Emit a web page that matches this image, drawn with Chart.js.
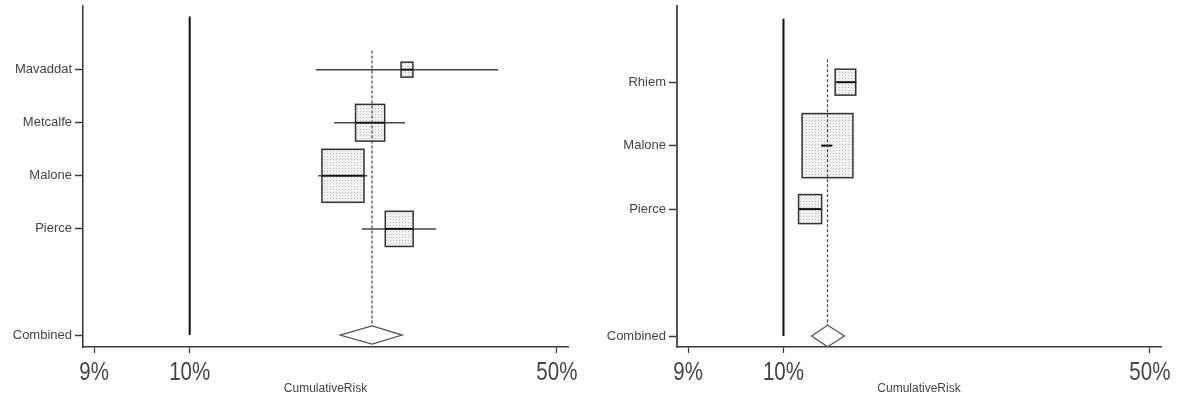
<!DOCTYPE html>
<html>
<head>
<meta charset="utf-8">
<script src="https://cdn.jsdelivr.net/npm/chart.js@4.4.1/dist/chart.umd.min.js"></script>
<style>
  body { margin: 0; background: #fff; }
  #wrap { display: flex; width: 1186px; height: 399px; }
  .pane { position: relative; width: 593px; height: 399px; }
</style>
</head>
<body>
<div id="wrap">
  <div class="pane"><canvas id="leftChart"></canvas></div>
  <div class="pane"><canvas id="rightChart"></canvas></div>
</div>
<script>
// ====== 軸（同一套刻度，位置照圖上讀） ======
const TICK_POS = [2.3, 22, 97.7];
const TICK_LABELS = ['9%', '10%', '50%'];
const REF_POS = 22;            // 10% 的實線
const AXIS_TITLE = 'CumulativeRisk';

// ====== 左圖 ======
const LEFT_STUDIES = ['Mavaddat', 'Metcalfe', 'Malone', 'Pierce'];
const LEFT_EST    = [66.8, 59.2, 53.6, 65.2];
const LEFT_LO     = [48.0, 51.8, 48.5, 57.5];
const LEFT_HI     = [85.6, 66.4, 58.6, 72.8];
const LEFT_WEIGHT = [4, 24, 50, 22];
const LEFT_COMBINED = [59.6, 53.0, 65.8];   // est, lo, hi

// ====== 右圖 ======
const RIGHT_STUDIES = ['Rhiem', 'Malone', 'Pierce'];
const RIGHT_EST    = [34.8, 31.1, 27.5];
const RIGHT_LO     = [32.9, 29.8, 25.2];
const RIGHT_HI     = [37.1, 32.1, 29.8];
const RIGHT_WEIGHT = [12, 73, 15];
const RIGHT_COMBINED = [31.1, 27.8, 34.6];

const TEXT_COLOR = '#444';
const AXIS_COLOR = '#3a3a3a';

// 點點灰底
function makePattern() {
  const c = document.createElement('canvas');
  c.width = 3; c.height = 3;
  const g = c.getContext('2d');
  g.fillStyle = '#f0f0f0';
  g.fillRect(0, 0, 3, 3);
  g.fillStyle = '#c4c4c4';
  g.fillRect(0, 0, 1, 1);
  return c;
}
const patternCanvas = makePattern();

// ====== 森林圖插件 ======
const forestPlugin = {
  id: 'forest',
  beforeDatasetsDraw(chart) {
    const { ctx } = chart;
    const xs = chart.scales.x, ys = chart.scales.y;
    const n = chart.data.datasets[0].data.length;

    // 10% 參考線
    const rx = xs.getPixelForValue(REF_POS);
    ctx.save();
    ctx.strokeStyle = '#111';
    ctx.lineWidth = 2;
    ctx.beginPath();
    ctx.moveTo(rx, ys.getPixelForValue(n + 3));
    ctx.lineTo(rx, ys.getPixelForValue(1));
    ctx.stroke();
    ctx.restore();
  },
  afterDatasetsDraw(chart) {
    const { ctx } = chart;
    const xs = chart.scales.x, ys = chart.scales.y;
    const n = chart.data.datasets[0].data.length;
    const pat = ctx.createPattern(patternCanvas, 'repeat');

    chart.data.datasets[0].data.forEach(p => {
      const x = xs.getPixelForValue(p.x);
      const y = ys.getPixelForValue(p.y);
      const bw = 5.95 * Math.sqrt(p.w);
      const bh = 7.5 * Math.sqrt(p.w);
      ctx.save();
      // 信賴區間
      ctx.strokeStyle = '#444';
      ctx.lineWidth = 1.5;
      ctx.beginPath();
      ctx.moveTo(xs.getPixelForValue(p.lo), y);
      ctx.lineTo(xs.getPixelForValue(p.hi), y);
      ctx.stroke();
      // 方塊
      ctx.fillStyle = pat;
      ctx.fillRect(x - bw / 2, y - bh / 2, bw, bh);
      ctx.strokeStyle = '#333';
      ctx.lineWidth = 1.5;
      ctx.strokeRect(x - bw / 2, y - bh / 2, bw, bh);
      // 方塊內的線
      const l = Math.max(xs.getPixelForValue(p.lo), x - bw / 2);
      const r = Math.min(xs.getPixelForValue(p.hi), x + bw / 2);
      ctx.strokeStyle = '#111';
      ctx.lineWidth = 2;
      ctx.beginPath();
      ctx.moveTo(l, y);
      ctx.lineTo(r, y);
      ctx.stroke();
      ctx.restore();
    });

    // 合併估計虛線（畫在方塊上面）
    const c = chart.data.datasets[1].data[0];
    const cx = xs.getPixelForValue(c.x);
    ctx.save();
    ctx.strokeStyle = '#444';
    ctx.lineWidth = 1.2;
    ctx.setLineDash([3, 2]);
    ctx.beginPath();
    ctx.moveTo(cx, ys.getPixelForValue(n + 2.36));
    ctx.lineTo(cx, ys.getPixelForValue(1.17));
    ctx.stroke();
    ctx.restore();

    // 菱形
    const cy = ys.getPixelForValue(c.y);
    const h = cy - ys.getPixelForValue(c.y + 0.17);
    ctx.save();
    ctx.fillStyle = '#fff';
    ctx.strokeStyle = '#555';
    ctx.lineWidth = 1.3;
    ctx.beginPath();
    ctx.moveTo(xs.getPixelForValue(c.lo), cy);
    ctx.lineTo(cx, cy - h);
    ctx.lineTo(xs.getPixelForValue(c.hi), cy);
    ctx.lineTo(cx, cy + h);
    ctx.closePath();
    ctx.fill();
    ctx.stroke();
    ctx.restore();
  },
  afterDraw(chart) {
    // 窄體的 X 軸刻度文字
    const { ctx } = chart;
    const xs = chart.scales.x;
    const baseY = xs.top + 33;
    ctx.save();
    ctx.fillStyle = '#444';
    ctx.font = '25px "Liberation Sans", Arial, sans-serif';
    ctx.textAlign = 'center';
    ctx.textBaseline = 'alphabetic';
    TICK_POS.forEach((v, i) => {
      const x = xs.getPixelForValue(v);
      ctx.save();
      ctx.translate(x, baseY);
      ctx.scale(0.82, 1);
      ctx.fillText(TICK_LABELS[i], 0, 0);
      ctx.restore();
    });
    ctx.restore();
  }
};

function buildForest(canvasId, studies, est, lo, hi, weight, combined, yMin, yAxisWidth, yBorderColor, yBorderWidth) {
  const n = studies.length;
  const rows = studies.map((s, i) => n + 2 - i);
  const rowTicks = [1].concat(rows.slice().reverse());
  const rowLabels = {};
  studies.forEach((s, i) => { rowLabels[rows[i]] = s; });
  rowLabels[1] = 'Combined';

  const points = studies.map((s, i) => ({ x: est[i], y: rows[i], lo: lo[i], hi: hi[i], w: weight[i] }));

  return new Chart(document.getElementById(canvasId), {
    type: 'scatter',
    data: {
      datasets: [
        { label: 'studies', data: points, pointRadius: 0, pointHoverRadius: 0 },
        { label: 'combined', data: [{ x: combined[0], y: 1, lo: combined[1], hi: combined[2] }], pointRadius: 0, pointHoverRadius: 0 }
      ]
    },
    options: {
      responsive: true,
      maintainAspectRatio: false,
      animation: false,
      layout: { padding: { top: 6, right: 25, left: 0, bottom: 0 } },
      scales: {
        x: {
          type: 'linear',
          min: 0,
          max: 100,
          afterFit: s => { s.height = 52; s.paddingLeft = 0; s.paddingRight = 0; },
          afterBuildTicks: s => { s.ticks = TICK_POS.map(v => ({ value: v })); },
          ticks: { display: false, autoSkip: false },
          grid: { drawOnChartArea: false, drawTicks: true, tickLength: 6, color: AXIS_COLOR, tickWidth: 1.2 },
          border: { display: true, color: AXIS_COLOR, width: 1.5 },
          title: {
            display: true,
            text: AXIS_TITLE,
            color: '#444',
            font: { family: '"Liberation Sans", Arial, sans-serif', size: 12 },
            padding: { top: 0, bottom: 3 }
          }
        },
        y: {
          type: 'linear',
          min: yMin,
          max: n + 3.2,
          afterFit: s => { s.width = yAxisWidth; s.paddingTop = 0; s.paddingBottom = 0; },
          afterBuildTicks: s => { s.ticks = rowTicks.map(v => ({ value: v })); },
          ticks: {
            autoSkip: false,
            padding: 3,
            color: TEXT_COLOR,
            font: { family: '"Liberation Sans", Arial, sans-serif', size: 13 },
            callback: v => rowLabels[v] || ''
          },
          grid: { drawOnChartArea: false, drawTicks: true, tickLength: 8, color: AXIS_COLOR, tickWidth: 1.5 },
          border: { display: true, color: yBorderColor, width: yBorderWidth }
        }
      },
      plugins: {
        legend: { display: false },
        tooltip: { enabled: false }
      }
    },
    plugins: [forestPlugin]
  });
}

buildForest('leftChart', LEFT_STUDIES, LEFT_EST, LEFT_LO, LEFT_HI, LEFT_WEIGHT, LEFT_COMBINED, 0.774, 83, '#333', 1.5);
buildForest('rightChart', RIGHT_STUDIES, RIGHT_EST, RIGHT_LO, RIGHT_HI, RIGHT_WEIGHT, RIGHT_COMBINED, 0.827, 84, '#555', 2);
</script>
</body>
</html>
